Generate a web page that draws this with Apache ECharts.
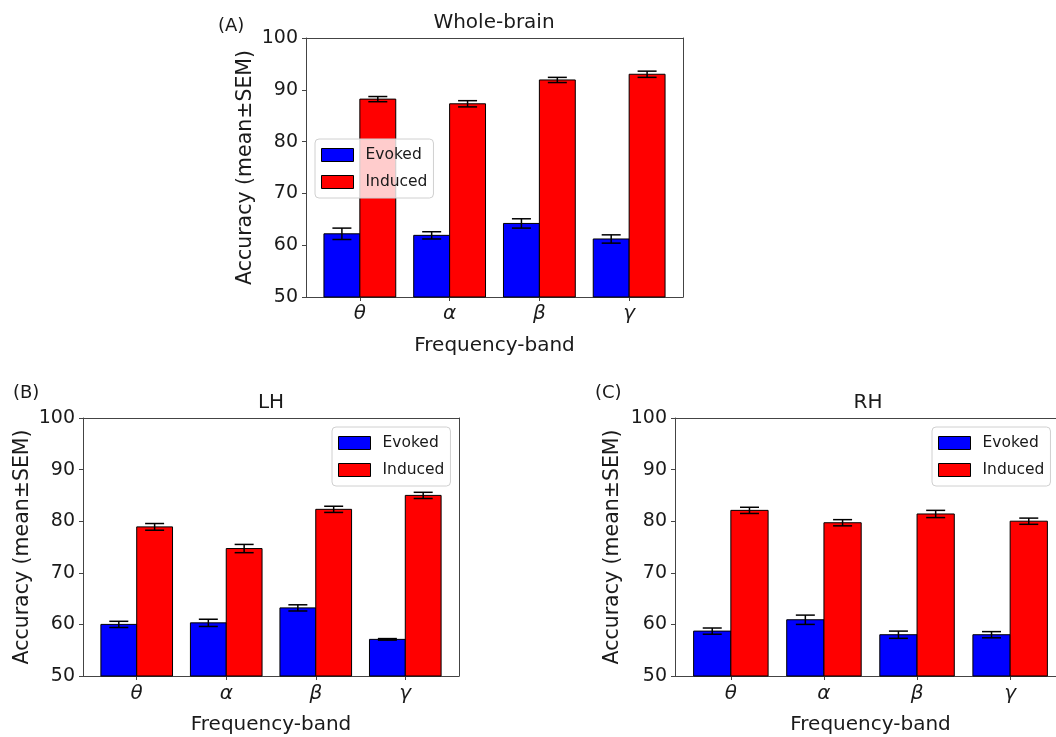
<!DOCTYPE html>
<html>
<head>
<meta charset="utf-8">
<script src="https://cdn.jsdelivr.net/npm/echarts@6/dist/echarts.min.js"></script>
<style>
  html, body { margin: 0; padding: 0; background: #fff; }
  #chart { width: 1056px; height: 737px; }
</style>
</head>
<body>
<div id="chart"></div>
<script>
// frequency bands (x tick labels)
const bands = ['θ', 'α', 'β', 'γ'];

// Whole-brain
const evokedA = [62.2, 61.9, 64.2, 61.2];
const evokedErrA = [1.1, 0.7, 0.9, 0.8];
const inducedA = [88.2, 87.3, 91.9, 93.0];
const inducedErrA = [0.5, 0.6, 0.5, 0.6];

// LH
const evokedB = [60.0, 60.3, 63.2, 57.1];
const evokedErrB = [0.6, 0.7, 0.6, 0.15];
const inducedB = [78.9, 74.7, 82.3, 85.0];
const inducedErrB = [0.65, 0.8, 0.6, 0.6];

// RH
const evokedC = [58.7, 60.9, 58.0, 58.0];
const evokedErrC = [0.6, 0.9, 0.7, 0.6];
const inducedC = [82.1, 79.7, 81.4, 80.0];
const inducedErrC = [0.6, 0.6, 0.7, 0.6];

const FONT = 'DejaVu Sans';
const TXT = '#1a1a1a';
const SPINE = '#444';
const BAR_W = 0.4;

// x offset of each series inside a band
function toData(vals, errs, shift) {
  return vals.map((v, i) => [i + shift, v, errs[i]]);
}

// bar + error bar, drawn through the axis scales
function renderBar(params, api) {
  const x = api.value(0);
  const y = api.value(1);
  const e = api.value(2);
  const tl = api.coord([x - BAR_W / 2, y]);
  const br = api.coord([x + BAR_W / 2, 50]);
  const top = api.coord([x, y + e]);
  const bot = api.coord([x, y - e]);
  const cap = 9.5;
  const line = { stroke: '#000', lineWidth: 1.5 };
  return {
    type: 'group',
    children: [
      {
        type: 'rect',
        shape: { x: tl[0], y: tl[1], width: br[0] - tl[0], height: br[1] - tl[1] },
        style: { fill: api.visual('color'), stroke: '#000', lineWidth: 1 }
      },
      { type: 'line', shape: { x1: top[0], y1: top[1], x2: bot[0], y2: bot[1] }, style: line },
      { type: 'line', shape: { x1: top[0] - cap, y1: top[1], x2: top[0] + cap, y2: top[1] }, style: line },
      { type: 'line', shape: { x1: bot[0] - cap, y1: bot[1], x2: bot[0] + cap, y2: bot[1] }, style: line }
    ]
  };
}

function barSeries(name, color, idx, data) {
  return {
    type: 'custom',
    name: name,
    xAxisIndex: idx,
    yAxisIndex: idx,
    itemStyle: { color: color },
    renderItem: renderBar,
    encode: { x: 0, y: 1 },
    data: data,
    z: 2
  };
}

function xAxisOf(idx, margin) {
  return {
    type: 'value',
    gridIndex: idx,
    min: -0.6,
    max: 3.6,
    name: 'Frequency-band',
    nameLocation: 'middle',
    nameGap: 39,
    nameTextStyle: { fontFamily: FONT, fontSize: 20, color: TXT },
    axisLine: { show: true, onZero: false, lineStyle: { color: SPINE, width: 1 } },
    axisTick: { show: true, customValues: [0, 1, 2, 3], length: 4, lineStyle: { color: SPINE } },
    axisLabel: {
      customValues: [0, 1, 2, 3],
      formatter: (v) => bands[Math.round(v)],
      fontFamily: FONT, fontSize: 20, fontStyle: 'italic', color: TXT, margin: margin
    },
    splitLine: { show: false }
  };
}

function yAxisOf(idx, gap) {
  return {
    type: 'value',
    gridIndex: idx,
    min: 50,
    max: 100,
    interval: 10,
    name: 'Accuracy (mean±SEM)',
    nameLocation: 'middle',
    nameGap: gap,
    nameTextStyle: { fontFamily: FONT, fontSize: 20.5, color: TXT },
    axisLine: { show: true, onZero: false, lineStyle: { color: SPINE, width: 1 } },
    axisTick: { show: true, length: 4, lineStyle: { color: SPINE } },
    axisLabel: { fontFamily: FONT, fontSize: 19, color: TXT, margin: 8 },
    splitLine: { show: false }
  };
}

// top / right spines of the frame
function spineX(idx) {
  return {
    type: 'value', gridIndex: idx, position: 'top', min: -0.6, max: 3.6,
    axisLine: { show: true, onZero: false, lineStyle: { color: SPINE, width: 1 } },
    axisTick: { show: false }, axisLabel: { show: false }, splitLine: { show: false }
  };
}

function spineY(idx) {
  return {
    type: 'value', gridIndex: idx, position: 'right', min: 50, max: 100,
    axisLine: { show: true, onZero: false, lineStyle: { color: SPINE, width: 1 } },
    axisTick: { show: false }, axisLabel: { show: false }, splitLine: { show: false }
  };
}

function legendOf(left, top) {
  return {
    left: left,
    top: top,
    orient: 'vertical',
    padding: [8, 6, 8, 6],
    itemGap: 11,
    itemWidth: 32,
    itemHeight: 13,
    backgroundColor: 'rgba(255,255,255,0.8)',
    borderColor: '#d0d0d0',
    borderWidth: 1,
    borderRadius: 4,
    icon: 'rect',
    selectedMode: false,
    textStyle: { fontFamily: FONT, fontSize: 15.5, color: TXT, padding: [0, 0, 0, 7] },
    data: [
      { name: 'Evoked', itemStyle: { color: '#0000ff', borderColor: '#000', borderWidth: 1 } },
      { name: 'Induced', itemStyle: { color: '#ff0000', borderColor: '#000', borderWidth: 1 } }
    ]
  };
}

function titleOf(text, left, top, align, size) {
  return {
    text: text,
    left: left,
    top: top,
    padding: 0,
    textAlign: align,
    textStyle: { fontFamily: FONT, fontSize: size, fontWeight: 'normal', color: TXT }
  };
}

const chart = echarts.init(document.getElementById('chart'), null, { renderer: 'canvas' });

const gridStyle = { show: false, outerBoundsMode: 'none' };

chart.setOption({
  animation: false,
  backgroundColor: '#fff',
  title: [
    titleOf('Whole-brain', 494, 13, 'center', 20),
    titleOf('(A)', 218, 17, 'left', 18),
    titleOf('LH', 271, 393, 'center', 20),
    titleOf('(B)', 13, 384, 'left', 18),
    titleOf('RH', 868, 393, 'center', 20),
    titleOf('(C)', 595, 384, 'left', 18)
  ],
  legend: [
    legendOf(315, 139),
    legendOf(332, 427),
    legendOf(932, 427)
  ],
  grid: [
    Object.assign({ left: 306, top: 38, width: 377, height: 259 }, gridStyle),
    Object.assign({ left: 83, top: 418, width: 376, height: 258 }, gridStyle),
    Object.assign({ left: 675, top: 418, width: 391, height: 258 }, gridStyle)
  ],
  xAxis: [xAxisOf(0, 7), xAxisOf(1, 8), xAxisOf(2, 8), spineX(0), spineX(1), spineX(2)],
  yAxis: [yAxisOf(0, 50), yAxisOf(1, 50), yAxisOf(2, 52), spineY(0), spineY(1), spineY(2)],
  series: [
    barSeries('Evoked', '#0000ff', 0, toData(evokedA, evokedErrA, -0.2)),
    barSeries('Induced', '#ff0000', 0, toData(inducedA, inducedErrA, 0.2)),
    barSeries('Evoked', '#0000ff', 1, toData(evokedB, evokedErrB, -0.2)),
    barSeries('Induced', '#ff0000', 1, toData(inducedB, inducedErrB, 0.2)),
    barSeries('Evoked', '#0000ff', 2, toData(evokedC, evokedErrC, -0.2)),
    barSeries('Induced', '#ff0000', 2, toData(inducedC, inducedErrC, 0.2))
  ]
});
</script>
</body>
</html>
